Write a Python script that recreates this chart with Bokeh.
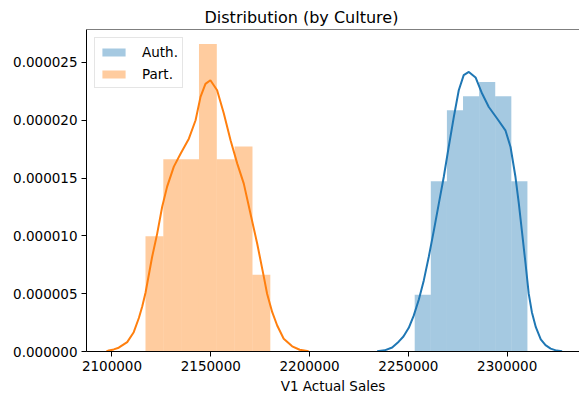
import numpy as np
from bokeh.plotting import figure
from bokeh.models import (Range1d, FixedTicker, PrintfTickFormatter, BasicTickFormatter,
                          Span, Legend, LegendItem)
from bokeh.embed import file_html
from bokeh.resources import INLINE

# Histogram counts per bin (7 equal-width bins over each group's range)
auth_lo, auth_hi = 2253200, 2310250
auth_counts = [4, 12, 17, 18, 19, 18, 12]
part_lo, part_hi = 2116950, 2180125
part_counts = [9, 15, 15, 24, 15, 16, 6]

# Kernel density estimates (V1 Actual Sales, density)
auth_kde_x = [2234200, 2238000, 2241800, 2245100, 2247500, 2250200, 2252700, 2255300,
              2257800, 2260300, 2262900, 2265400, 2267900, 2270400, 2273000, 2275500,
              2278000, 2280600, 2284000, 2287300, 2290700, 2294900, 2299100, 2301700,
              2304200, 2305900, 2307600, 2309300, 2310900, 2312500, 2314500, 2317000,
              2319400, 2322000, 2325000, 2327800]
auth_kde_y = [0.02e-6, 0.10e-6, 0.35e-6, 0.85e-6, 1.30e-6, 2.05e-6, 3.10e-6, 4.50e-6,
              6.15e-6, 8.17e-6, 10.48e-6, 12.79e-6, 15.09e-6, 17.69e-6, 20.29e-6, 22.60e-6,
              23.90e-6, 24.18e-6, 23.70e-6, 22.31e-6, 21.15e-6, 20.15e-6, 19.13e-6, 17.69e-6,
              15.09e-6, 12.79e-6, 10.19e-6, 7.59e-6, 5.00e-6, 3.40e-6, 2.10e-6, 1.05e-6,
              0.55e-6, 0.25e-6, 0.08e-6, 0.02e-6]

part_kde_x = [2097200, 2098400, 2100900, 2103400, 2107700, 2111000, 2113600, 2115300,
              2117000, 2120300, 2122900, 2125400, 2127900, 2131300, 2134700, 2138900,
              2142300, 2144800, 2147300, 2149800, 2153200, 2156600, 2160000, 2163400,
              2166700, 2170100, 2173500, 2176800, 2178500, 2181100, 2183600, 2186900,
              2191200, 2195000, 2199500]
part_kde_y = [0.0, 0.09e-6, 0.18e-6, 0.33e-6, 0.81e-6, 1.67e-6, 2.90e-6, 3.90e-6,
              5.10e-6, 8.17e-6, 10.22e-6, 12.52e-6, 14.26e-6, 15.99e-6, 17.11e-6, 18.41e-6,
              20.00e-6, 22.02e-6, 23.15e-6, 23.46e-6, 22.60e-6, 20.58e-6, 18.27e-6, 16.25e-6,
              14.52e-6, 11.92e-6, 9.32e-6, 6.50e-6, 5.00e-6, 3.40e-6, 2.25e-6, 1.10e-6,
              0.45e-6, 0.15e-6, 0.02e-6]

x_ticks = [2100000, 2150000, 2200000, 2250000, 2300000]
y_ticks = [0.0, 0.000005, 0.000010, 0.000015, 0.000020, 0.000025]

BLUE = "#1f77b4"
ORANGE = "#ff7f0e"
FONT = "DejaVu Sans"

y_top = 27.85e-6

p = figure(width=579, height=402,
           x_range=Range1d(2087100, 2336600), y_range=Range1d(0, y_top),
           output_backend="svg", toolbar_location=None,
           min_border_left=86, min_border_right=0, min_border_top=29, min_border_bottom=51)

p.grid.visible = False
p.outline_line_color = None
p.background_fill_color = "white"
p.border_fill_color = "white"

def hist(lo, hi, counts):
    edges = np.linspace(lo, hi, len(counts) + 1)
    width = edges[1] - edges[0]
    dens = np.array(counts) / (np.sum(counts) * width)
    return edges[:-1], edges[1:], dens

a_l, a_r, a_d = hist(auth_lo, auth_hi, auth_counts)
o_l, o_r, o_d = hist(part_lo, part_hi, part_counts)

auth_bars = p.quad(left=a_l, right=a_r, bottom=0, top=a_d,
                   fill_color=BLUE, fill_alpha=0.4, line_color=None)
p.line(auth_kde_x, auth_kde_y, line_color=BLUE, line_width=2)

part_bars = p.quad(left=o_l, right=o_r, bottom=0, top=o_d,
                   fill_color=ORANGE, fill_alpha=0.4, line_color=None)
p.line(part_kde_x, part_kde_y, line_color=ORANGE, line_width=2)

# top spine only (open on the right)
p.add_layout(Span(location=y_top, dimension="width", line_color="black", line_width=1))

for ax in (p.xaxis[0], p.yaxis[0]):
    ax.axis_line_color = "black"
    ax.axis_line_width = 1
    ax.major_tick_line_color = "black"
    ax.major_tick_out = 5
    ax.major_tick_in = 0
    ax.minor_tick_line_color = None
    ax.major_label_text_font = FONT
    ax.major_label_text_font_size = "13.5px"
    ax.major_label_text_color = "black"
    ax.major_label_standoff = 4

p.xaxis[0].ticker = FixedTicker(ticks=x_ticks)
p.xaxis[0].formatter = BasicTickFormatter(use_scientific=False)
p.yaxis[0].ticker = FixedTicker(ticks=y_ticks)
p.yaxis[0].formatter = PrintfTickFormatter(format="%.6f")

p.xaxis[0].axis_label = "V1 Actual Sales"
p.xaxis[0].axis_label_text_font = FONT
p.xaxis[0].axis_label_text_font_size = "13.5px"
p.xaxis[0].axis_label_text_font_style = "normal"
p.xaxis[0].axis_label_text_color = "black"
p.xaxis[0].axis_label_standoff = 4

p.title.text = "Distribution (by Culture)"
p.title.align = "left"
p.title.offset = 118
p.title.text_font = FONT
p.title.text_font_size = "16px"
p.title.text_font_style = "normal"
p.title.text_color = "black"
p.title.standoff = 6

legend = Legend(items=[LegendItem(label="Auth.", renderers=[auth_bars]),
                       LegendItem(label="Part.", renderers=[part_bars])],
                location="top_left")
legend.margin = 8
legend.padding = 4
legend.spacing = 3
legend.glyph_width = 29
legend.glyph_height = 10
legend.label_height = 19
legend.label_standoff = 14
legend.label_text_font = FONT
legend.label_text_font_size = "13.5px"
legend.label_text_color = "black"
legend.border_line_color = "#cccccc"
legend.border_line_width = 1
legend.background_fill_alpha = 0.8
p.add_layout(legend)

open("out.html", "w").write(file_html(p, INLINE))
